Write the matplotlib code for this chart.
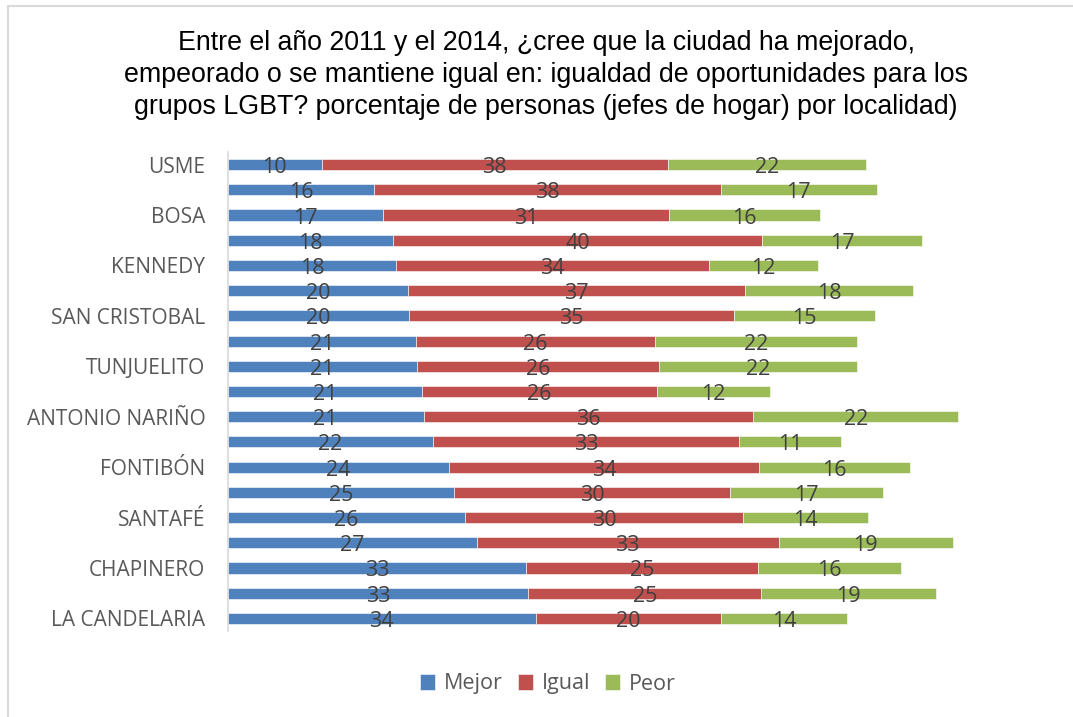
import numpy as np
import matplotlib.pyplot as plt
from matplotlib.patches import Rectangle

# Data (percent of heads of household)
localidades = ['USME', '', 'BOSA', '', 'KENNEDY', '', 'SAN CRISTOBAL', '',
               'TUNJUELITO', '', 'ANTONIO NARIÑO', '', 'FONTIBÓN', '',
               'SANTAFÉ', '', 'CHAPINERO', '', 'LA CANDELARIA']
mejor = [10.3, 16.0, 17.0, 18.0, 18.4, 19.7, 19.8, 20.6, 20.7, 21.2,
         21.4, 22.4, 24.2, 24.7, 25.9, 27.2, 32.6, 32.8, 33.6]
igual = [37.7, 37.8, 31.2, 40.3, 34.1, 36.7, 35.4, 26.0, 26.4, 25.6,
         35.9, 33.4, 33.8, 30.1, 30.3, 32.9, 25.2, 25.4, 20.2]
peor = [21.6, 17.0, 16.4, 17.4, 11.9, 18.4, 15.4, 22.1, 21.6, 12.4,
        22.4, 11.1, 16.4, 16.7, 13.6, 19.0, 15.6, 19.1, 13.8]
series_names = ['Mejor', 'Igual', 'Peor']
colors = ['#4F81BD', '#C0504D', '#9BBB59']

titulo = ('Entre el año 2011 y el 2014, ¿cree que la ciudad ha mejorado,\n'
          'empeorado o se mantiene igual en: igualdad de oportunidades para los\n'
          'grupos LGBT? porcentaje de personas (jefes de hogar) por localidad)')

W, H = 1073, 717
fig = plt.figure(figsize=(W / 100, H / 100), dpi=100)

# chart frame: only left and top edges fall inside the picture
fig.patches.append(Rectangle((8 / W, -10 / H), (W + 20) / W, (H + 4) / H,
                             transform=fig.transFigure, fill=False,
                             edgecolor='#D9D9D9', linewidth=1.5))

fig.text(546 / W, 1 - 75 / H, titulo, ha='center', va='center',
         fontsize=19.3, family='Liberation Sans', color='black', linespacing=1.3)

ax = fig.add_axes([227.5 / W, 1 - 631 / H, (1040 - 227.5) / W, 479 / H])

y = np.arange(len(localidades))
left = np.zeros(len(localidades))
for vals, name, col in zip([mejor, igual, peor], series_names, colors):
    vals = np.array(vals)
    ax.barh(y, vals, left=left, height=0.44, color=col, label=name,
            edgecolor='white', linewidth=0.4)
    for yi, l, v in zip(y, left, vals):
        ax.text(l + v / 2, yi + 0.12, f'{v:.0f}', ha='center', va='center',
                fontsize=15.5, family='Open Sans', color='#404040')
    left = left + vals

ax.set_ylim(len(localidades) - 0.5, -0.5)
ax.set_xlim(0, (1040 - 227.5) / 9.17)
ax.set_yticks(y)
ax.set_yticklabels(localidades, fontsize=15, family='Open Sans', color='#595959')
ax.tick_params(axis='y', length=0, pad=16)
ax.set_xticks([])
for s in ['top', 'right', 'bottom']:
    ax.spines[s].set_visible(False)
ax.spines['left'].set_color('#D9D9D9')
ax.spines['left'].set_linewidth(1.2)

leg = fig.legend(loc='center', bbox_to_anchor=(548 / W, 1 - 684 / H), ncol=3,
                 frameon=False, handlelength=0.7, handleheight=0.7,
                 columnspacing=0.7, handletextpad=0.4,
                 prop={'family': 'Open Sans', 'size': 15.5})
for t in leg.get_texts():
    t.set_color('#595959')

fig.savefig('out.png', dpi=100)
